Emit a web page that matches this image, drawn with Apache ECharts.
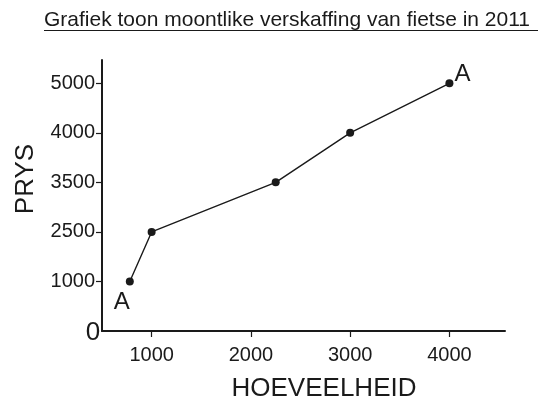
<!DOCTYPE html>
<html>
<head>
<meta charset="utf-8">
<script src="https://cdn.jsdelivr.net/npm/echarts@6/dist/echarts.min.js"></script>
<style>
  html, body { margin: 0; padding: 0; background: #fff; }
  #main { width: 543px; height: 401px; }
</style>
</head>
<body>
<div id="main"></div>
<script>
// data
const quantities = [780, 1000, 2250, 3000, 4000]
const prices = [1000, 2500, 3500, 4000, 5000]
const pointLabels = ['A', '', '', '', 'A']
const yTickLabels = ['0', '1000', '2500', '3500', '4000', '5000']
const xTickValues = [1000, 2000, 3000, 4000]

const font = 'Liberation Sans'
const ink = '#1a1a1a'

// the price axis is drawn evenly spaced per label, so place each price at its label's slot
const seriesData = quantities.map((q, i) => {
  const item = { value: [q, yTickLabels.indexOf(String(prices[i]))] }
  if (pointLabels[i]) {
    item.label = {
      show: true,
      formatter: pointLabels[i],
      position: 'inside',
      offset: i === 0 ? [-8, 21] : [13, -9]
    }
  }
  return item
})

let myChart = echarts.init(document.getElementById('main'))
let option = {
  animation: false,
  grid: { left: 102, right: 38, top: 60, bottom: 70 },
  xAxis: {
    type: 'value',
    min: 500,
    max: 4560,
    splitLine: { show: false },
    axisLine: { lineStyle: { color: ink, width: 2 } },
    axisTick: { customValues: xTickValues, length: 6, lineStyle: { color: ink, width: 1.2 } },
    axisLabel: {
      customValues: xTickValues,
      margin: 14,
      color: ink,
      fontSize: 20,
      fontFamily: font,
      formatter: v => String(v)
    }
  },
  yAxis: {
    type: 'value',
    min: 0,
    max: 5.47,
    splitLine: { show: false },
    axisLine: { show: true, lineStyle: { color: ink, width: 2 } },
    axisTick: { show: true, customValues: [1, 2, 3, 4, 5], length: 6, lineStyle: { color: ink, width: 1.2 } },
    axisLabel: {
      customValues: [1, 2, 3, 4, 5],
      margin: 7,
      color: ink,
      fontSize: 20,
      fontFamily: font,
      formatter: v => yTickLabels[Math.round(v)]
    }
  },
  series: [
    {
      type: 'line',
      data: seriesData,
      symbol: 'circle',
      symbolSize: 8,
      itemStyle: { color: ink },
      lineStyle: { color: ink, width: 1.4 },
      label: { color: ink, fontSize: 24, fontFamily: font }
    }
  ],
  graphic: [
    {
      type: 'text',
      left: 44,
      top: 10,
      style: { text: 'Grafiek toon moontlike verskaffing van fietse in 2011', fill: ink, font: '21px "Liberation Sans"' }
    },
    { type: 'line', shape: { x1: 44, y1: 30.5, x2: 538, y2: 30.5 }, style: { stroke: ink, lineWidth: 1.2 } },
    {
      type: 'text',
      x: 25.5,
      y: 179,
      rotation: Math.PI / 2,
      style: { text: 'PRYS', fill: ink, font: '26px "Liberation Sans"', align: 'center', verticalAlign: 'middle' }
    },
    {
      type: 'text',
      x: 324,
      y: 389,
      style: { text: 'HOEVEELHEID', fill: ink, font: '26px "Liberation Sans"', align: 'center', verticalAlign: 'middle' }
    },
    {
      type: 'text',
      x: 93,
      y: 333,
      style: { text: '0', fill: ink, font: '26px "Liberation Sans"', align: 'center', verticalAlign: 'middle' }
    }
  ]
}
myChart.setOption(option)
</script>
</body>
</html>
